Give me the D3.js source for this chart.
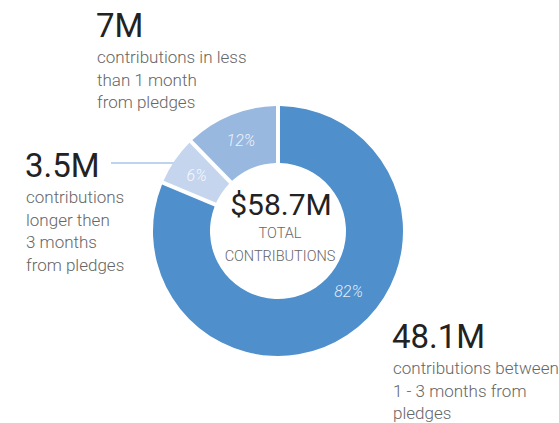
<!DOCTYPE html>
<html>
<head>
<meta charset="utf-8">
<script src="https://cdn.jsdelivr.net/npm/d3@7"></script>
<style>
  body { margin: 0; background: #fff; }
  text { font-family: Roboto, "Noto Sans", sans-serif; }
</style>
</head>
<body>
<div id="chart"></div>
<script>
// data
const categories = ["1 - 3 months", "longer than 3 months", "less than 1 month"];
const values = [48.1, 3.5, 7];
const bigLabels = ["48.1M", "3.5M", "7M"];
const descriptions = [
    ["contributions between", "1 - 3 months from", "pledges"],
    ["contributions", "longer then", "3 months", "from pledges"],
    ["contributions in less", "than 1 month", "from pledges"]
];
const totalLabel = "$58.7M";
const totalCaption = ["TOTAL", "CONTRIBUTIONS"];
const colors = ["#4e8fcc", "#c5d5ee", "#98b8e0"];

const width = 559, height = 423;
const cx = 278, cy = 231;
const outerR = 125, innerR = 68;

const svg = d3.select("#chart")
    .append("svg")
    .attr("width", width)
    .attr("height", height);

const data = categories.map((c, i) => ({ key: c, value: values[i], big: bigLabels[i], desc: descriptions[i] }));
const total = d3.sum(values);

const color = d3.scaleOrdinal()
    .domain(categories)
    .range(colors);

const pie = d3.pie()
    .sort(null)
    .value(d => d.value)
    .padAngle(0.032);

const arc = d3.arc()
    .innerRadius(innerR)
    .outerRadius(outerR)
    .padRadius(outerR);

const arcs = pie(data);

const g = svg.append("g")
    .attr("transform", `translate(${cx},${cy})`);

// connector line for the small slice
const small = arcs[1];
const midSmall = (small.startAngle + small.endAngle) / 2;
g.append("line")
    .attr("x1", 111 - cx)
    .attr("y1", 163 - cy)
    .attr("x2", -outerR * Math.sin(Math.PI * 2 - midSmall) + 6)
    .attr("y2", 163 - cy)
    .attr("stroke", "#a9c4e8")
    .attr("stroke-width", 1.5);

g.selectAll(".slice")
    .data(arcs)
    .enter()
    .append("path")
    .attr("class", "slice")
    .attr("d", arc)
    .attr("fill", d => color(d.data.key));

// percent labels
const fmt = d3.format(".0%");
g.selectAll(".pct")
    .data(arcs)
    .enter()
    .append("text")
    .attr("class", "pct")
    .attr("transform", d => {
        const span = d.endAngle - d.startAngle;
        const a = span > Math.PI ? d.startAngle + span * 0.445 : d.startAngle + span / 2;
        const r = span > Math.PI ? (innerR + outerR) / 2 - 4 : (innerR + outerR) / 2 + 2;
        return `translate(${r * Math.sin(a)},${-r * Math.cos(a) + 6})`;
    })
    .attr("text-anchor", "middle")
    .attr("font-size", "16px")
    .attr("font-style", "italic")
    .attr("font-weight", 300)
    .attr("fill", "rgba(255,255,255,0.85)")
    .text(d => fmt(d.data.value / total));

// centre text
g.append("text")
    .attr("text-anchor", "middle")
    .attr("x", 3)
    .attr("y", 215 - cy)
    .attr("font-size", "30px")
    .attr("fill", "#222")
    .text(totalLabel);

g.selectAll(".cap")
    .data(totalCaption)
    .enter()
    .append("text")
    .attr("class", "cap")
    .attr("text-anchor", "middle")
    .attr("x", 2)
    .attr("y", (d, i) => 238 - cy + i * 23)
    .attr("font-size", "14.5px")
    .attr("font-weight", 300)
    .attr("fill", "#666")
    .text(d => d);

// annotations
const notePos = [
    { x: 393, y: 348 },
    { x: 26, y: 177 },
    { x: 97, y: 37 }
];

data.forEach((d, i) => {
    const note = svg.append("g")
        .attr("transform", `translate(${notePos[i].x},${notePos[i].y})`);

    note.append("text")
        .attr("x", -1)
        .attr("font-size", "33px")
        .attr("fill", "#222")
        .text(d.big);

    d.desc.forEach((line, j) => {
        note.append("text")
            .attr("y", 26 + j * 22.5)
            .attr("font-size", "17px")
            .attr("font-weight", 300)
            .attr("fill", "#666")
            .text(line);
    });
});
</script>
</body>
</html>
